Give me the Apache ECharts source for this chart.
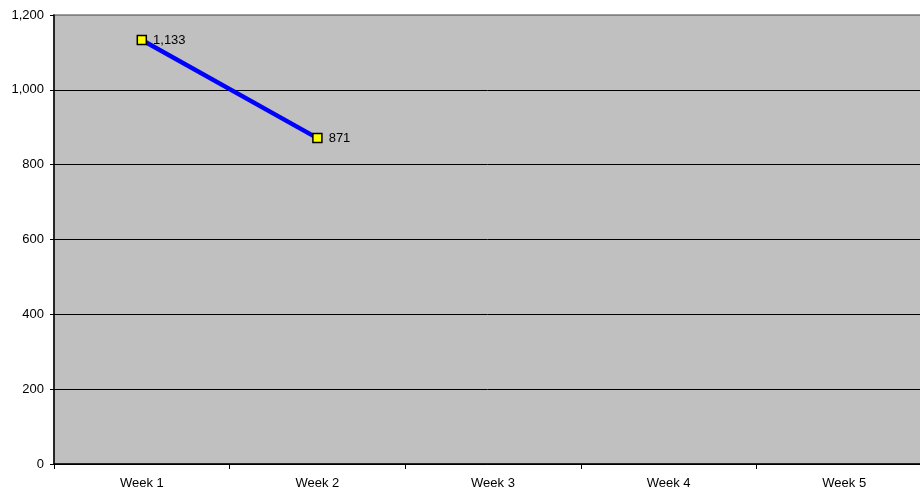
<!DOCTYPE html>
<html><head><meta charset="utf-8">
<script src="https://cdn.jsdelivr.net/npm/echarts@6/dist/echarts.min.js"></script>
<style>html,body{margin:0;padding:0;background:#fff}#c{width:920px;height:490px}</style>
</head><body><div id="c"></div>
<script>
const categories = ['Week 1', 'Week 2', 'Week 3', 'Week 4', 'Week 5'];
const values = [1133, 871, null, null, null];
const yTicks = { min: 0, max: 1200, interval: 200 };

const chart = echarts.init(document.getElementById('c'), null, {renderer: 'canvas'});
chart.setOption({
  animation: false,
  backgroundColor: '#ffffff',
  grid: { left: 54, width: 878, top: 15, height: 449, outerBoundsMode: 'none', containLabel: false,
    show: true, backgroundColor: '#C0C0C0', borderColor: '#808080', borderWidth: 1.5 },
  xAxis: {
    type: 'category', data: categories, boundaryGap: true,
    axisLine: { lineStyle: { color: '#000', width: 1.5 } },
    axisTick: { show: true, length: 5, lineStyle: { color: '#000' } },
    axisLabel: { color: '#000', fontFamily: 'Liberation Sans', fontSize: 13, margin: 13 }
  },
  yAxis: {
    type: 'value', min: yTicks.min, max: yTicks.max, interval: yTicks.interval,
    axisLine: { show: true, lineStyle: { color: '#000', width: 1.5 } },
    axisTick: { show: true, length: 4, lineStyle: { color: '#000' } },
    axisLabel: { color: '#000', fontFamily: 'Liberation Sans', fontSize: 13, margin: 10,
      formatter: v => v.toLocaleString('en-US') },
    splitLine: { show: true, lineStyle: { color: ['#000','#000','#000','#000','#000','#000','#808080'], width: 1 } }
  },
  series: [{
    type: 'line', data: values, connectNulls: false,
    lineStyle: { color: '#0000FF', width: 4.5 },
    symbol: 'rect', symbolSize: 9,
    itemStyle: { color: '#FFFF00', borderColor: '#000', borderWidth: 1.5 },
    label: { show: true, position: 'right', distance: 6, color: '#000', fontFamily: 'Liberation Sans', fontSize: 13,
      formatter: p => p.value.toLocaleString('en-US') },
    z: 3
  }]
});
</script></body></html>
